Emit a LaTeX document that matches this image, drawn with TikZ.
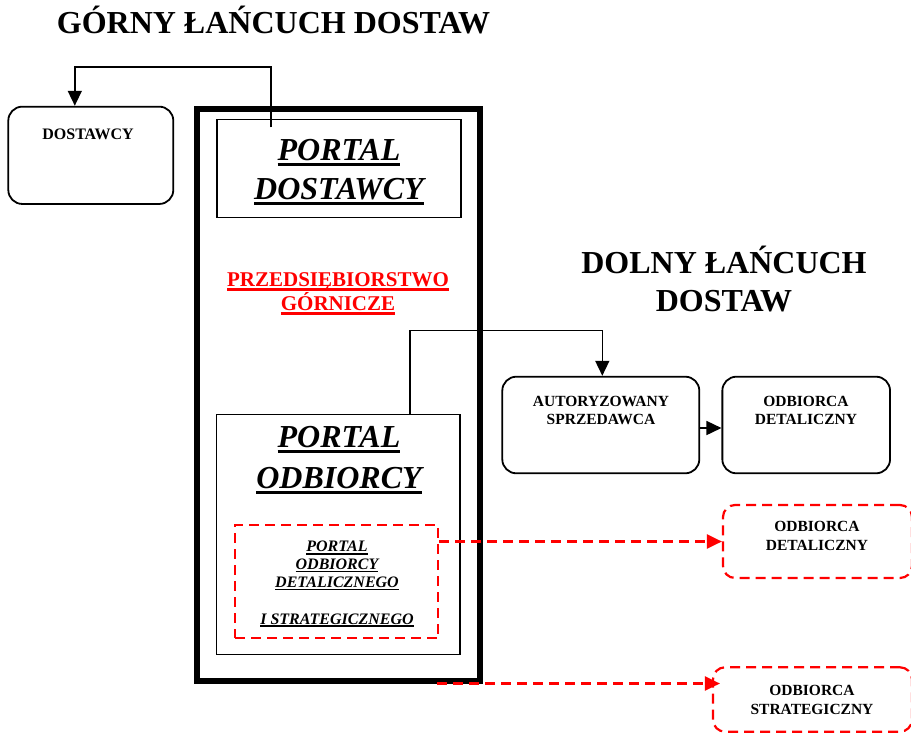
\documentclass[tikz,border=0pt]{standalone}
\usepackage{fontspec}
\setmainfont{Liberation Serif}
\usetikzlibrary{arrows.meta}
\definecolor{chainred}{RGB}{255,0,0}
% underlined text: #1 gap below baseline, #2 rule thickness, #3 text
\newcommand\ulline[3]{\leavevmode\setbox0=\hbox{#3}\rlap{\vrule width\wd0 height -#1 depth \dimexpr#1+#2\relax}\box0}
\begin{document}
\begin{tikzpicture}[x=1pt,y=-1pt,
  box/.style={draw, line width=1.5pt, inner sep=0pt},
  rbox/.style={draw, line width=1.8pt, rounded corners=14pt, inner sep=0pt},
  rdbox/.style={draw=chainred, line width=2.2pt, dash pattern=on 10pt off 6pt, rounded corners=12pt, inner sep=0pt},
  lbl/.style={anchor=base, inner sep=0pt},
  title/.style={lbl, font=\fontsize{32}{38}\selectfont\bfseries},
  bigital/.style={lbl, font=\fontsize{32}{38}\selectfont\bfseries\itshape},
  smallital/.style={lbl, font=\fontsize{16}{18}\selectfont\bfseries\itshape},
  boxtext/.style={lbl, font=\fontsize{15.5}{18}\selectfont\bfseries},
  redtext/.style={lbl, text=chainred, font=\fontsize{21}{24}\selectfont\bfseries},
  conn/.style={line width=1.6pt, -{Triangle[length=15pt,width=14pt]}},
  rconn/.style={draw=chainred, line width=2.2pt, dash pattern=on 10pt off 6pt,
    -{Triangle[length=15pt,width=14pt,fill=chainred]}}
]
\useasboundingbox (0,0) rectangle (911,734);

% headings
\node[title] (tgorny) at (273.5,33.3) {GÓRNY ŁAŃCUCH DOSTAW};
\node[title] (tdolny1) at (724,273.3) {DOLNY ŁAŃCUCH};
\node[title] (tdolny2) at (724,311.7) {DOSTAW};

% mining company frame
\node[draw, line width=6pt, minimum width=283.5pt, minimum height=572pt, inner sep=0pt] (firm) at (338.25,394.5) {};
\node[redtext] (pg1) at (338,286) {\ulline{2.3pt}{2.4pt}{PRZEDSIĘBIORSTWO}};
\node[redtext] (pg2) at (338,310) {\ulline{2.3pt}{2.4pt}{GÓRNICZE}};

% supplier portal
\node[box, minimum width=244pt, minimum height=98pt] (pdost) at (338.8,168.5) {};
\node[bigital] (pd1) at (339,160) {\ulline{2.7pt}{3.4pt}{PORTAL}};
\node[bigital] (pd2) at (339,199.3) {\ulline{2.7pt}{3.4pt}{DOSTAWCY}};

% customer portal
\node[box, minimum width=243.3pt, minimum height=240pt] (podb) at (338.3,534.3) {};
\node[bigital] (po1) at (339,447.3) {\ulline{2.7pt}{3.4pt}{PORTAL}};
\node[bigital] (po2) at (339,488.3) {\ulline{2.7pt}{3.4pt}{ODBIORCY}};

% retail and strategic customer portal
\node[rdbox, rounded corners=0pt, minimum width=203.3pt, minimum height=113.3pt] (pds) at (336.7,581.7) {};
\node[smallital] (ps1) at (337,551.7) {\ulline{1.2pt}{1.7pt}{PORTAL}};
\node[smallital] (ps2) at (337,569.5) {\ulline{1.2pt}{1.7pt}{ODBIORCY}};
\node[smallital] (ps3) at (337,587.5) {\ulline{1.2pt}{1.7pt}{DETALICZNEGO}};
\node[smallital] (ps4) at (337,624) {\ulline{1.2pt}{1.7pt}{I STRATEGICZNEGO}};

% suppliers
\node[rbox, minimum width=165pt, minimum height=97.3pt] (dost) at (90.8,155.3) {};
\node[boxtext, font=\fontsize{16}{18}\selectfont\bfseries] (dostt) at (88,139.3) {DOSTAWCY};

% downstream chain
\node[rbox, minimum width=197pt, minimum height=96.6pt] (auto) at (600.8,425) {};
\node[boxtext] (auto1) at (601,406.7) {AUTORYZOWANY};
\node[boxtext] (auto2) at (601,424) {SPRZEDAWCA};

\node[rbox, minimum width=167.7pt, minimum height=96.6pt] (odet) at (806.2,425) {};
\node[boxtext] (odet1) at (806,406.7) {ODBIORCA};
\node[boxtext] (odet2) at (806,424) {DETALICZNY};

\node[rdbox, minimum width=189pt, minimum height=73pt] (rdet) at (817.5,541.5) {};
\node[boxtext] (rdet1) at (817,531) {ODBIORCA};
\node[boxtext] (rdet2) at (817,550) {DETALICZNY};

\node[rdbox, minimum width=199pt, minimum height=64.4pt] (rstr) at (812.5,699.5) {};
\node[boxtext] (rstr1) at (812,695) {ODBIORCA};
\node[boxtext] (rstr2) at (812,714) {STRATEGICZNY};

% connectors
\coordinate (pdtap) at ([yshift=-8.5pt]pdost.north -| 271,0);
\draw[conn] (pdtap) -- ++(0,-60) -| ([xshift=-16pt]dost.north);
\draw[conn] ([xshift=71.7pt]podb.north) -- ++(0,-83) -| ([xshift=1.5pt]auto.north);
\draw[conn] ([yshift=-3pt]auto.east) -- ([yshift=-3pt]odet.west);
\draw[rconn] (pds.east |- rdet.west) -- (rdet.west);
\draw[rconn] ([xshift=99pt]firm.south) -- ([xshift=8pt]rstr.west |- firm.south);
\end{tikzpicture}
\end{document}
